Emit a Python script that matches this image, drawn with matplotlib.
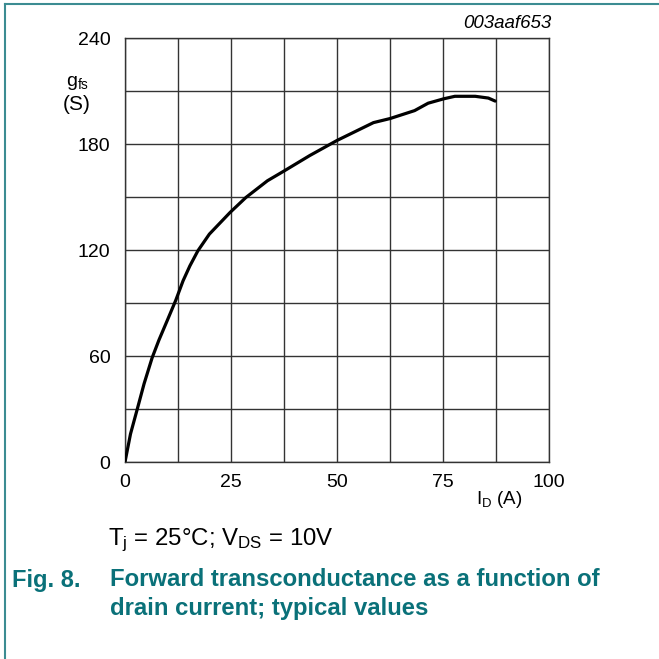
import numpy as np
import matplotlib
matplotlib.use('Agg')
import matplotlib.pyplot as plt
from matplotlib.lines import Line2D

plt.rcParams['font.family'] = ['Liberation Sans', 'DejaVu Sans']
plt.rcParams['mathtext.fontset'] = 'custom'
plt.rcParams['mathtext.rm'] = 'Liberation Sans'
plt.rcParams['mathtext.it'] = 'Liberation Sans:italic'

#%% Data
i_d = [0, 1.3, 2.9, 4.5, 6.4, 8.0, 10.0, 12.0, 13.7, 15.3, 17.2, 19.9, 24.8,
       28.5, 33.6, 37.5, 43.6, 50.0, 58.6, 62.5, 68.3, 71.5, 75.2, 77.8,
       82.6, 85.7, 87.3]
g_fs = [0, 15.9, 30.0, 44.3, 59.0, 69.0, 80.3, 91.7, 102.6, 111.0, 119.6, 129.0,
        141.3, 149.7, 159.2, 164.7, 173.5, 182.0, 192.1, 194.4, 198.9, 203.1,
        205.6, 207.0, 207.0, 206.0, 204.3]

x_ticks = [0, 25, 50, 75, 100]
y_ticks = [0, 60, 120, 180, 240]

teal = '#0a7179'
frame_col = '#3b8c92'

#%% Figure
fig = plt.figure(figsize=(6.59, 6.59), dpi=100)
ax = fig.add_axes([125/659, 1 - 462/659, 424/659, 424/659])

ax.plot(i_d, g_fs, c='k', lw=2.3, solid_capstyle='round', solid_joinstyle='round', zorder=3)

ax.set_xlim(0, 100)
ax.set_ylim(0, 240)
ax.set_xticks(np.arange(0, 100.1, 12.5))
ax.set_yticks(np.arange(0, 240.1, 30))
ax.grid(True, color='#333333', lw=1.0)
ax.tick_params(length=0, labelbottom=False, labelleft=False)
for s in ax.spines.values():
    s.set_color('#333333')
    s.set_linewidth(1.0)

# tick labels as text, only every second grid line is labelled
for v in x_ticks:
    ax.text(v, -6.8, str(v), ha='center', va='top', fontsize=14)
for v in y_ticks:
    ax.text(-3.4, v - 1.3, str(v), ha='right', va='center', fontsize=14)

# axis labels
fig.text(66/659, 1 - 83/659, r'g$_{\mathregular{fs}}$', fontsize=14, ha='left', va='center')
fig.text(63/659, 1 - 104/659, '(S)', fontsize=15, ha='left', va='center')
fig.text(476/659, 1 - 500/659, r'I$_{\mathregular{D}}$ (A)', fontsize=13.5, ha='left', va='center')
fig.text(551/659, 1 - 23/659, '003aaf653', fontsize=13.5, style='italic', ha='right', va='center')

# conditions and caption
fig.text(108/659, 1 - 540/659, r'T$_{\mathregular{j}}$ = 25°C; V$_{\mathregular{DS}}$ = 10V',
         fontsize=17.3, ha='left', va='center')
fig.text(12/659, 1 - 580/659, 'Fig. 8.', fontsize=17, weight='bold', color=teal,
         ha='left', va='center')
fig.text(110/659, 1 - 580/659, 'Forward transconductance as a function of',
         fontsize=17.2, weight='bold', color=teal, ha='left', va='center')
fig.text(110/659, 1 - 608/659, 'drain current; typical values',
         fontsize=17.2, weight='bold', color=teal, ha='left', va='center')

# page frame
fig.add_artist(Line2D([5/659, 1], [1 - 3.5/659, 1 - 3.5/659], color=frame_col, lw=1.5,
                      transform=fig.transFigure))
fig.add_artist(Line2D([5/659, 5/659], [0, 1 - 3.5/659], color=frame_col, lw=1.5,
                      transform=fig.transFigure))

plt.savefig('out.png', dpi=100)
